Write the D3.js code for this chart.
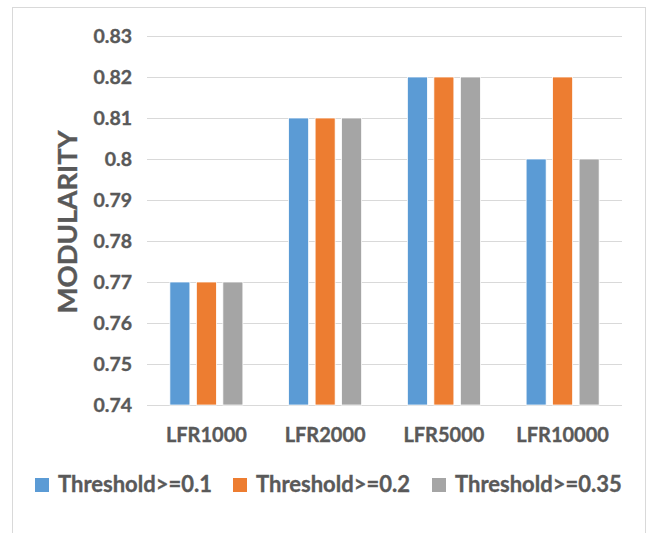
<!DOCTYPE html>
<html><head><meta charset="utf-8">
<script src="https://cdn.jsdelivr.net/npm/d3@7"></script>
<style>
body{margin:0;background:#fff;}
text{font-family:Lato,"Open Sans",sans-serif;font-weight:bold;fill:#595959;stroke:#595959;stroke-width:0.35px;}
</style></head>
<body><svg id="c" width="656" height="533"></svg>
<script>
const categories = ["LFR1000","LFR2000","LFR5000","LFR10000"];
const seriesNames = ["Threshold>=0.1","Threshold>=0.2","Threshold>=0.35"];
const t01 = [0.77,0.81,0.82,0.80];
const t02 = [0.77,0.81,0.82,0.82];
const t035 = [0.77,0.81,0.82,0.80];
const yTicks = [0.74,0.75,0.76,0.77,0.78,0.79,0.80,0.81,0.82,0.83];
const colors = ["#5b9bd5","#ed7d31","#a5a5a5"];
const series = [t01,t02,t035];

const svg = d3.select("#c");
svg.append("rect").attr("x",12.5).attr("y",7.5).attr("width",633).attr("height",540)
  .attr("fill","#fff").attr("stroke","#d9d9d9").attr("stroke-width",1);

const pL=147, pR=622, pT=36, pB=405;
const y = d3.scaleLinear().domain([0.74,0.83]).range([pB,pT]);
const x0 = d3.scaleBand().domain(categories).range([pL,pR]).padding(0);
const x1 = d3.scaleBand().domain(d3.range(3)).range([-36.5,36.5]).paddingInner(0.245).paddingOuter(0);

// gridlines
svg.append("g").selectAll("line").data(yTicks).join("line")
  .attr("x1",pL).attr("x2",pR)
  .attr("y1",d=>Math.round(y(d))+0.5).attr("y2",d=>Math.round(y(d))+0.5)
  .attr("stroke","#d9d9d9").attr("stroke-width",1);

// y tick labels
svg.append("g").selectAll("text").data(yTicks).join("text")
  .attr("x",132).attr("y",d=>y(d)).attr("dy","0.36em")
  .attr("text-anchor","end").attr("font-size",19.5)
  .text(d=>d3.format(".2~f")(d));

// bars
const g = svg.append("g");
categories.forEach((c,ci)=>{
  series.forEach((s,si)=>{
    const cx = x0(c)+x0.bandwidth()/2;
    g.append("rect")
      .attr("x",cx+x1(si)).attr("width",x1.bandwidth())
      .attr("y",y(s[ci])).attr("height",y(0.74)-y(s[ci]))
      .attr("fill",colors[si]).attr("stroke","#fff").attr("stroke-width",0.75);
  });
});

// x labels
svg.append("g").selectAll("text").data(categories).join("text")
  .attr("x",d=>x0(d)+x0.bandwidth()/2).attr("y",442)
  .attr("text-anchor","middle").attr("font-size",20)
  .text(d=>d);

// y title
svg.append("text").attr("transform","translate(77,222) rotate(-90)")
  .attr("text-anchor","middle").attr("font-size",27.5)
  .text("MODULARITY");

// legend
const legX = [35,233,432];
seriesNames.forEach((n,i)=>{
  svg.append("rect").attr("x",legX[i]).attr("y",478).attr("width",14).attr("height",14).attr("fill",colors[i]);
  svg.append("text").attr("x",legX[i]+23).attr("y",492).attr("font-size",22).text(n);
});
</script></body></html>
